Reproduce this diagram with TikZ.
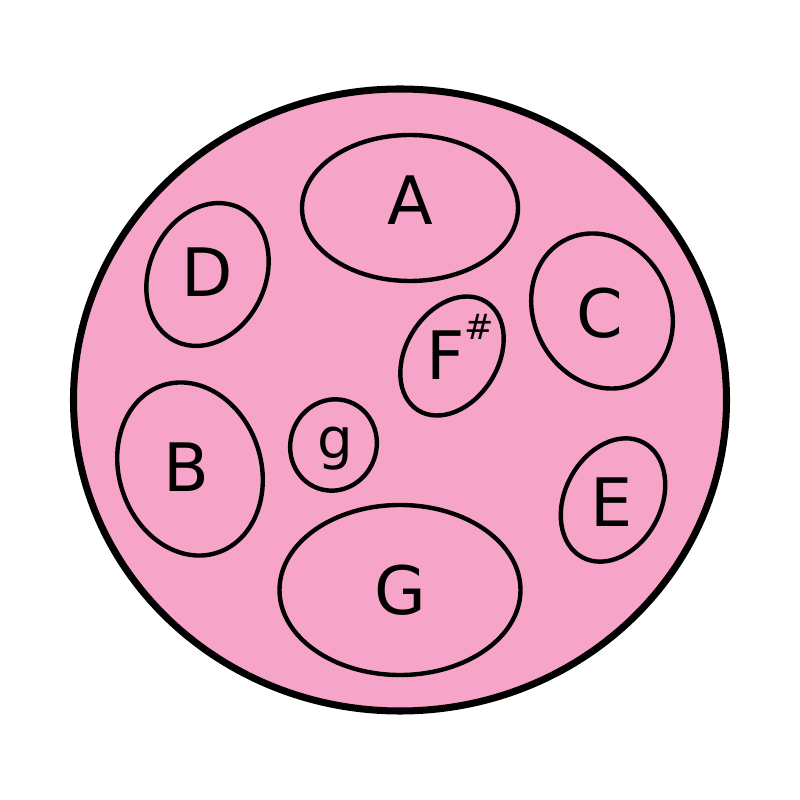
\documentclass[tikz,border=0pt]{standalone}
\usepackage{fontspec}
\setmainfont{DejaVu Sans}
\usetikzlibrary{shapes.geometric}
\definecolor{panpink}{RGB}{246,164,200}
\begin{document}
\begin{tikzpicture}[
    field/.style ={ellipse, draw, line width=1.25pt, inner sep=0pt},
    tone/.style ={font=\fontsize{19}{20}\selectfont, inner sep=0pt}]
   \useasboundingbox (-4,-4) rectangle (4,4);
   \node[ellipse, draw, line width=2pt, fill=panpink, inner sep=0pt,
         minimum width=6.53cm, minimum height=6.22cm] (pan) at (0,0) {};
   \node[field, minimum width=2.16cm, minimum height=1.46cm] (A) at (0.10,1.92) {};
   \node[field, minimum width=1.16cm, minimum height=1.48cm, rotate=-25] (D) at (-1.925,1.255) {};
   \node[field, minimum width=1.36cm, minimum height=1.60cm, rotate=28] (C) at (2.02,0.89) {};
   \node[field, minimum width=0.92cm, minimum height=1.28cm, rotate=-32] (Fs) at (0.52,0.44) {};
   \node[field, minimum width=0.86cm, minimum height=0.92cm, rotate=-20] (g) at (-0.665,-0.45) {};
   \node[field, minimum width=1.42cm, minimum height=1.76cm, rotate=18] (B) at (-2.10,-0.69) {};
   \node[field, minimum width=0.96cm, minimum height=1.30cm, rotate=-28] (E) at (2.13,-1.00) {};
   \node[field, minimum width=2.41cm, minimum height=1.70cm] (G) at (0.0,-1.90) {};
   \node[tone] (A-label) at (0.10,2.00) {A};
   \node[tone] (D-label) at (-1.93,1.28) {D};
   \node[tone] (C-label) at (2.00,0.87) {C};
   \node[tone, anchor=base] (Fs-label) at (0.60,0.20)
        {F\raisebox{0.6em}{\fontsize{10}{10}\selectfont\#}};
   \node[tone, font=\fontsize{16}{17}\selectfont] (g-label) at (-0.65,-0.485) {g};
   \node[tone] (B-label) at (-2.14,-0.67) {B};
   \node[tone] (E-label) at (2.12,-1.02) {E};
   \node[tone] (G-label) at (0.0,-1.90) {G};
\end{tikzpicture}
\end{document}
